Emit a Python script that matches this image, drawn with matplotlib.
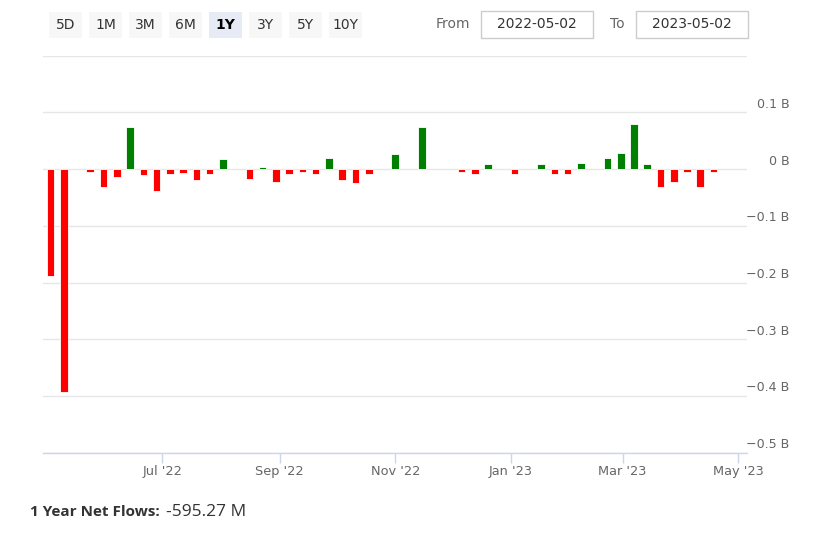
import pandas as pd
import numpy as np
import matplotlib.pyplot as plt
import matplotlib.dates as mdates
import matplotlib.transforms as mtransforms
from matplotlib.patches import Rectangle

# === DATA (weekly net flows, billions USD) ===
week_start = "2022-05-03"
flows = [
    -0.188, -0.393, None, -0.005, -0.031, -0.014, 0.075, -0.011, -0.038, -0.009,
    -0.0065, -0.020, -0.009, 0.018, None, -0.018, 0.004, -0.022, -0.009, -0.005,
    -0.009, 0.019, -0.020, -0.025, -0.009, None, 0.027, None, 0.075, None,
    None, -0.005, -0.009, 0.009, None, -0.009, None, 0.009, -0.009, -0.009,
    0.011, None, 0.020, 0.029, 0.080, 0.009, -0.031, -0.022, -0.005, -0.031,
    -0.005,
]
y_ticks = [0.1, 0, -0.1, -0.2, -0.3, -0.4, -0.5]
y_labels = ["0.1 B", "0 B", "\u22120.1 B", "\u22120.2 B", "\u22120.3 B", "\u22120.4 B", "\u22120.5 B"]
x_ticks = ["2022-07-01", "2022-09-01", "2022-11-01", "2023-01-01", "2023-03-01", "2023-05-01"]
buttons = ["5D", "1M", "3M", "6M", "1Y", "3Y", "5Y", "10Y"]
selected = "1Y"
date_from = "2022-05-02"
date_to = "2023-05-02"
net_total = "-595.27 M"

dates = pd.date_range(week_start, periods=len(flows), freq="7D")
vals = np.array([np.nan if v is None else v for v in flows])
ok = ~np.isnan(vals)

W, H = 817, 534
fig = plt.figure(figsize=(W / 100, H / 100), dpi=100)
plt.rcParams["font.family"] = ["DejaVu Sans"]

# axes position in pixels
x0, x1 = 42.7, 746.7
y_top, y_bot = 55.7, 452.7
ax = fig.add_axes([x0 / W, 1 - y_bot / H, (x1 - x0) / W, (y_bot - y_top) / H])

colors = np.where(vals >= 0, "#008000", "#ff0000")
ax.bar(dates[ok], vals[ok], width=4.0, color=colors[ok],
       edgecolor="white", linewidth=0.6, zorder=3)

ref = pd.Timestamp("2022-07-01")
ax.set_xlim(ref - pd.Timedelta(days=63.1), ref + pd.Timedelta(days=308.5))
ax.set_ylim(-0.5, 0.2)

# grid
for v in y_ticks + [0.2]:
    ax.axhline(v, color="#e6e6e6", linewidth=1, zorder=1)

for s in ["top", "left", "right"]:
    ax.spines[s].set_visible(False)
ax.spines["bottom"].set_color("#ccd6eb")
ax.spines["bottom"].set_linewidth(1)
ax.spines["bottom"].set_zorder(4)

ax.set_yticks([])
ax.set_xticks([pd.Timestamp(t) for t in x_ticks])
ax.xaxis.set_major_formatter(mdates.DateFormatter("%b '%y"))
ax.tick_params(axis="x", length=7.2, width=1, color="#ccd6eb",
               labelsize=9.3, labelcolor="#666666", pad=2)

# y labels on right, above gridlines
trans = mtransforms.blended_transform_factory(ax.transAxes, ax.transData)
trans = mtransforms.offset_copy(trans, fig=fig, x=43, y=8, units="dots")
for v, lab in zip(y_ticks, y_labels):
    ax.text(1.0, v, lab, transform=trans, ha="right", va="center",
            fontsize=9.1, color="#666666")

# range selector buttons
for i, b in enumerate(buttons):
    bx = 49 + i * 40
    is_sel = b == selected
    fig.patches.append(Rectangle((bx / W, 1 - 38 / H), 33 / W, 26 / H,
                                 transform=fig.transFigure,
                                 facecolor="#e6ebf5" if is_sel else "#f7f7f7",
                                 edgecolor="none"))
    fig.text((bx + 16.5) / W, 1 - 25 / H, b, ha="center", va="center",
             fontsize=10, color="#000000" if is_sel else "#333333",
             fontweight="bold" if is_sel else "normal")

# date inputs
fig.text(470 / W, 1 - 24 / H, "From", ha="right", va="center", fontsize=10, color="#666666")
fig.text(625 / W, 1 - 24 / H, "To", ha="right", va="center", fontsize=10, color="#666666")
for bx, txt in [(480.5, date_from), (635.5, date_to)]:
    fig.patches.append(Rectangle((bx / W, 1 - 37.5 / H), 112 / W, 26 / H,
                                 transform=fig.transFigure, facecolor="white",
                                 edgecolor="#cccccc", linewidth=1))
    fig.text((bx + 56) / W, 1 - 24 / H, txt, ha="center", va="center",
             fontsize=10, color="#333333")

# footer
fig.text(30 / W, 1 - 512 / H, "1 Year Net Flows:", ha="left", va="center",
         fontsize=11, fontweight="bold", color="#333333", family="Open Sans")
fig.text(166 / W, 1 - 512 / H, net_total, ha="left", va="center",
         fontsize=12.5, color="#333333", family="Open Sans")

fig.savefig("out.png", dpi=100)
